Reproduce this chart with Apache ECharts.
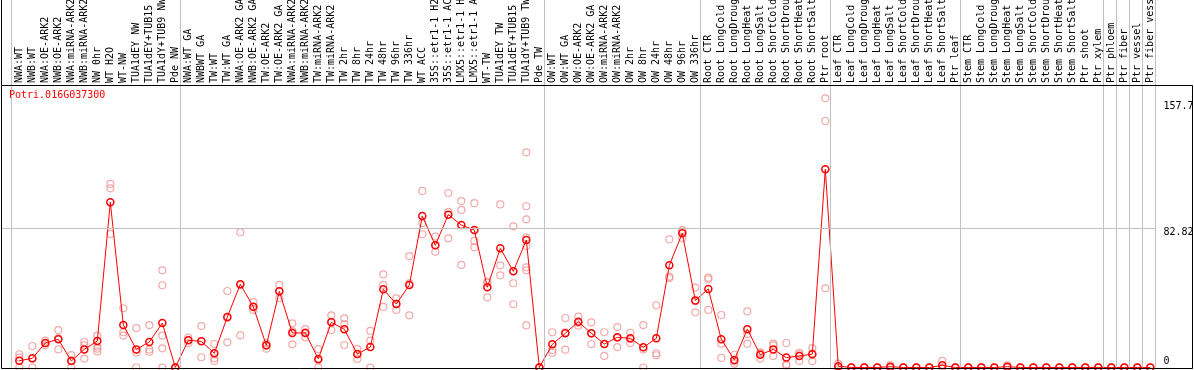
<!DOCTYPE html>
<html><head><meta charset="utf-8">
<script src="https://cdn.jsdelivr.net/npm/echarts@6/dist/echarts.min.js"></script>
<style>html,body{margin:0;padding:0;background:#fff}#c{width:1194px;height:370px}</style>
</head><body><div id="c"></div>
<script>
const geneName = 'Potri.016G037300';

const categories = [
  'NWA:WT','NWB:WT','NWA:OE-ARK2','NWB:OE-ARK2','NWA:miRNA-ARK2','NWB:miRNA-ARK2','NW 0hr','WT H2O','WT-NW',
  'TUA1dEY NW','TUA1dEY+TUB15 NW','TUA1dY+TUB9 NW','Pde NW',
  'NWA:WT GA','NWBWT GA','TW:WT','TW:WT GA','NWA:OE-ARK2 GA','NWB:OE-ARK2 GA','TW:OE-ARK2','TW:OE-ARK2 GA',
  'NWA:miRNA-ARK2 GA','NWB:miRNA-ARK2 GA','TW:miRNA-ARK2','TW:miRNA-ARK2 GA',
  'TW 2hr','TW 8hr','TW 24hr','TW 48hr','TW 96hr','TW 336hr','WT ACC',
  '35S::etr1-1 H2O','35S::etr1-1 ACC','LMX5::etr1-1 H2O','LMX5::etr1-1 ACC',
  'WT-TW','TUA1dEY TW','TUA1dEY+TUB15 TW','TUA1dY+TUB9 TW','Pde TW',
  'OW:WT','OW:WT GA','OW:OE-ARK2','OW:OE-ARK2 GA','OW:miRNA-ARK2','OW:miRNA-ARK2 GA',
  'OW 2hr','OW 8hr','OW 24hr','OW 48hr','OW 96hr','OW 336hr',
  'Root CTR','Root LongCold','Root LongDrought','Root LongHeat','Root LongSalt',
  'Root ShortCold','Root ShortDrought','Root ShortHeat','Root ShortSalt','Ptr root',
  'Leaf CTR','Leaf LongCold','Leaf LongDrought','Leaf LongHeat','Leaf LongSalt',
  'Leaf ShortCold','Leaf ShortDrought','Leaf ShortHeat','Leaf ShortSalt','Ptr leaf',
  'Stem CTR','Stem LongCold','Stem LongDrought','Stem LongHeat','Stem LongSalt',
  'Stem ShortCold','Stem ShortDrought','Stem ShortHeat','Stem ShortSalt',
  'Ptr shoot','Ptr xylem','Ptr phloem','Ptr fiber','Ptr vessel','Ptr fiber vessel'
];

const means = [
  4, 5.5, 14.6, 16.8, 3.9, 10.8, 15.8, 98.5, 25.3,
  10.8, 15.2, 26.5, 0,
  16.2, 15.6, 8.5, 30.1, 49.6, 36.2, 13.2, 45.4,
  20.6, 20.6, 5.1, 26.9,
  22.8, 8, 12.2, 46.6, 37.8, 49.2, 90.3,
  72.8, 91.1, 84.9, 81.9,
  47.8, 71, 57.3, 76, 0,
  13.8, 20.4, 27.3, 20.4, 14, 18,
  17.4, 12, 17.4, 60.9, 80, 40,
  46.8, 16.8, 4.5, 22.8, 7.6,
  10.8, 5.9, 6.9, 7.9, 118.1,
  0.8, 0, 0, 0, 0.5,
  0, 0, 0, 1.3, 0,
  0, 0, 0, 0.5, 0,
  0, 0, 0, 0,
  0, 0, 0, 0, 0, 0
];

const replicates = [
  [7.9, 5.9, 0], [12.8, 5.2, 0], [16, 14.5, 13.2], [22.3, 17.3, 10.8], [7.4, 4.3, 0], [15.2, 13.2, 5.3],
  [19, 12.4, 11.2, 9.6], [109.4, 106.8, 79.6], [35.3, 21, 19],
  [23.5, 9, 0], [25.3, 10.8, 9.4], [57.9, 49, 19, 11.4, 0], [0, 0, 0],
  [17.8, 16.4, 14.4], [24.7, 15.8, 6.1], [14, 5.5, 3.9], [45.6, 29.5, 15], [80.6, 49, 19.2], [39, 36, 34.3],
  [14.4, 13, 11.2], [49.2, 45.4, 41.2],
  [26.3, 21.7, 13.8], [22.9, 21, 18], [11, 4.3, 0], [31.1, 27.3, 22.3],
  [29.3, 25.9, 13.4], [11, 8, 5.1], [21.8, 16, 0], [55.5, 49.2, 36.1], [41.2, 38, 34.3], [66.4, 50.1, 31.1],
  [105.2, 86, 79.4],
  [78, 72.8, 69], [104, 92.7, 77], [99.2, 93.9, 61.1], [97.9, 75.4, 71.6],
  [51, 50.5, 41.8], [97.2, 60.8, 54.9], [84.1, 50.2, 37.7],
  [128.2, 96.1, 88.3, 77.4, 72.4, 59.7, 57.9, 25.1], [0, 0, 0],
  [21, 10.4, 8.8], [29.5, 21, 10.6], [30.3, 26.7, 24.9], [26.9, 20.3, 14], [21, 14, 6.9], [24.1, 17.7, 12.2],
  [20.7, 17, 14.6], [25.3, 10.7, 0], [37.1, 8.5, 7.3], [76.4, 54.1, 53.3], [81.9, 81, 77.2], [47.6, 39.5, 32.9],
  [53.5, 52.6, 34.3], [31.3, 14.2, 5.7], [7.6, 3.6, 2.3], [33.5, 20, 14.2], [9, 8.4, 5.3],
  [14.2, 13.2, 6.9], [14.6, 1.9, 1.2], [8.8, 8, 3.9], [11.6, 8.4, 3.7], [160.4, 146.9, 47.2],
  [2.3, 0, 0], [0, 0, 0], [0, 0, 0], [0, 0, 0], [1.5, 0, 0],
  [0, 0, 0], [0, 0, 0], [0, 0, 0], [3.9, 0, 0], [0, 0, 0],
  [0, 0, 0], [0, 0, 0], [0, 0, 0], [1.3, 0.2, 0], [0, 0, 0],
  [0, 0, 0], [0, 0, 0], [0, 0, 0], [0, 0, 0],
  [0, 0, 0], [0, 0, 0], [0, 0, 0], [0, 0, 0], [0, 0, 0], [0, 0, 0]
];

const yTickValues = [0, 82.82, 157.7];
const referenceLineValue = 82.82;
// index of the first category of each block; the last entry marks the end
const groupStarts = [0, 13, 41, 53, 63, 73, 84, 85, 86, 87, 88];

// ---- layout / style ----
const FONT = 'DejaVu Sans Mono';
const GRID_LINE = '#c0c0c0';
const SEP_OFFSET = 0.64;
const X_MIN = -1.41, X_MAX = categories.length - 1 + 0.4;
const Y_MAX = 219;

const meanData = means.map((m, i) => [i, m]);
const repData = [];
replicates.forEach((arr, i) => arr.forEach(v => repData.push([i, v])));

const chart = echarts.init(document.getElementById('c'), null, {renderer: 'canvas'});
chart.setOption({
  animation: false,
  backgroundColor: '#ffffff',
  title: {
    text: geneName, left: 9, top: 90, padding: 0,
    textStyle: {color: '#ff0000', fontSize: 10, fontFamily: FONT, fontWeight: 'normal'}
  },
  grid: {left: 1, right: 38.5, top: 0, bottom: 2.5, containLabel: false, outerBoundsMode: 'none'},
  xAxis: {
    type: 'value', min: X_MIN, max: X_MAX, position: 'top', offset: -85,
    axisLine: {show: false}, axisTick: {show: false}, splitLine: {show: false},
    axisLabel: {
      customValues: categories.map((_, i) => i),
      formatter: v => categories[Math.round(v)],
      rotate: 90, margin: 2, fontSize: 10, fontFamily: FONT, color: '#000',
      hideOverlap: false
    }
  },
  yAxis: {
    type: 'value', min: 0, max: Y_MAX, position: 'right',
    axisLine: {show: false}, axisTick: {show: false}, splitLine: {show: false},
    axisLabel: {
      customValues: yTickValues, margin: 8, color: '#000', fontSize: 10, fontFamily: FONT, align: 'left',
      formatter: v => v === 0 ? '{lo|' + v + '}' : '{hi|' + v + '}',
      rich: {
        lo: {padding: [0, 0, 12, 0], fontSize: 10, fontFamily: FONT, color: '#000'},
        hi: {padding: [8, 0, 0, 0], fontSize: 10, fontFamily: FONT, color: '#000'}
      }
    }
  },
  series: [
    {
      type: 'line', data: [], z: 0, silent: true,
      markLine: {
        silent: true, symbol: ['none', 'none'], label: {show: false}, animation: false,
        lineStyle: {color: GRID_LINE, width: 1, type: 'solid'},
        emphasis: {disabled: true},
        data: groupStarts.map(g => ({xAxis: g - SEP_OFFSET})).concat([{yAxis: referenceLineValue}])
      }
    },
    {
      type: 'scatter', data: repData, z: 1, symbol: 'circle', symbolSize: 7, silent: true,
      itemStyle: {color: 'rgba(0,0,0,0)', borderColor: '#f09494', borderWidth: 1.2}
    },
    {
      type: 'line', data: meanData, z: 2, symbol: 'circle', symbolSize: 7, showAllSymbol: true, silent: true,
      lineStyle: {color: '#ff0000', width: 1},
      itemStyle: {color: 'rgba(0,0,0,0)', borderColor: '#ff0000', borderWidth: 1.5}
    }
  ],
  graphic: [
    {type: 'rect', silent: true, z: 100, shape: {x: 1.5, y: 85.5, width: 1191, height: 283},
     style: {fill: null, stroke: '#000', lineWidth: 1}},
    {type: 'line', silent: true, z: 100, shape: {x1: 1.5, y1: 0, x2: 1.5, y2: 85.5},
     style: {stroke: '#000', lineWidth: 1}}
  ]
});
</script></body></html>
